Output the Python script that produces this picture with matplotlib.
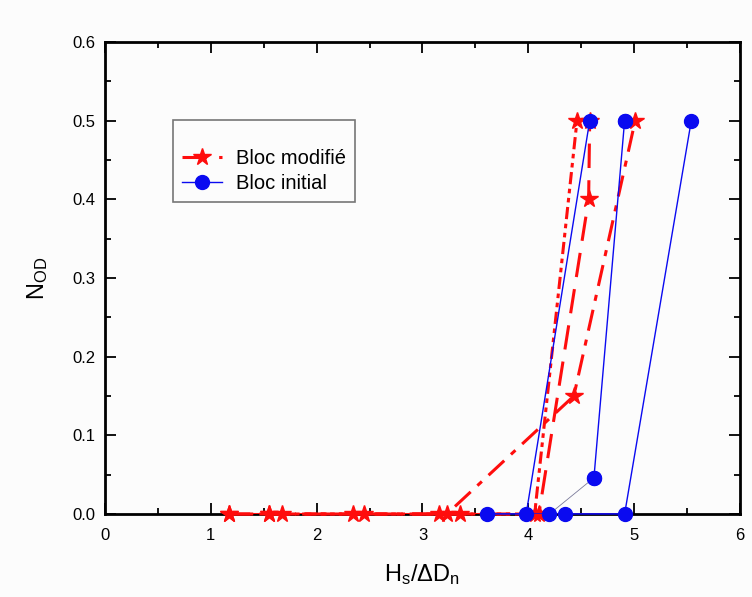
import matplotlib
matplotlib.use("Agg")
import matplotlib.pyplot as plt
from matplotlib.ticker import MultipleLocator

plt.rcParams['font.family'] = ['Liberation Sans', 'DejaVu Sans']
plt.rcParams['mathtext.default'] = 'regular'

# Bloc modifié (three test series)
mod_x1 = [1.17, 1.55, 2.34, 3.23, 4.43, 5.01]
mod_y1 = [0.0, 0.0, 0.0, 0.0, 0.15, 0.50]
mod_x2 = [1.17, 1.67, 2.45, 3.35, 4.10, 4.57, 4.58]
mod_y2 = [0.0, 0.0, 0.0, 0.0, 0.0, 0.40, 0.50]
mod_x3 = [1.55, 3.16, 4.06, 4.46]
mod_y3 = [0.0, 0.0, 0.0, 0.50]

# Bloc initial (three test series)
ini_x1 = [3.61, 3.98, 4.58]
ini_y1 = [0.0, 0.0, 0.50]
ini_x2 = [4.20, 4.62, 4.91]
ini_y2 = [0.0, 0.046, 0.50]
ini_x3 = [4.35, 4.91, 5.54]
ini_y3 = [0.0, 0.0, 0.50]

red = '#ff0d0d'
blue = '#0a0af0'

fig = plt.figure(figsize=(7.52, 5.97), dpi=100)
fig.patch.set_facecolor('#fcfcfc')
ax = fig.add_axes([0.1396, 0.139, 0.8444, 0.7906])
ax.set_facecolor('#fcfcfc')

star = dict(marker='*', markersize=13, color=red, markeredgecolor=red, lw=2.2,
            clip_on=False, zorder=3)
ax.plot(mod_x1, mod_y1, dashes=[7, 3, 2, 3], **star)
ax.plot(mod_x2, mod_y2, dashes=[8, 4], label='Bloc modifié', **star)
ax.plot(mod_x3, mod_y3, dashes=[4, 1.5, 1.5, 1.5, 1.5, 1.5], **star)
# the red series overlap along the zero line, which reads as one solid line
red_zero = sorted(set(x for x, y in zip(mod_x1 + mod_x2, mod_y1 + mod_y2) if y == 0))
ax.plot(red_zero, [0.0] * len(red_zero), color=red, lw=2.2, zorder=3)

circ = dict(marker='o', markersize=10, color=blue, markeredgecolor=blue, lw=1.0,
            clip_on=False, zorder=4)
ax.plot(ini_x1, ini_y1, label='Bloc initial', **circ)
ax.plot(ini_x2[:2], ini_y2[:2], color='#7a7a9a', lw=0.6, zorder=4)
ax.plot(ini_x2, ini_y2, ls='none', marker='o', markersize=10, color=blue,
        clip_on=False, zorder=4)
ax.plot(ini_x2[1:], ini_y2[1:], **circ)
ax.plot(ini_x3, ini_y3, **circ)
blue_zero = sorted(set(x for x, y in zip(ini_x1 + ini_x3, ini_y1 + ini_y3) if y == 0))
ax.plot(blue_zero, [0.0] * len(blue_zero), color='#3a10c0', lw=2.0, zorder=3.5)

ax.set_xlim(0, 6)
ax.set_ylim(0, 0.6)
ax.xaxis.set_major_locator(MultipleLocator(1))
ax.xaxis.set_minor_locator(MultipleLocator(0.5))
ax.yaxis.set_major_locator(MultipleLocator(0.1))
ax.yaxis.set_minor_locator(MultipleLocator(0.05))
ax.yaxis.set_major_formatter(plt.FormatStrFormatter('%.1f'))
ax.tick_params(which='both', direction='in', top=True, right=True, width=1.3,
               labelsize=12, pad=7)
ax.tick_params(axis='x', pad=10)
ax.tick_params(which='major', length=8)
ax.tick_params(which='minor', length=4)
for sp in ax.spines.values():
    sp.set_linewidth(2)

ax.set_xlabel(r'H$_s$/$\Delta$D$_n$', fontsize=17, labelpad=14)
ax.set_ylabel(r'N$_{OD}$', fontsize=17, labelpad=16)

leg = ax.legend(loc='upper left', bbox_to_anchor=(0.107, 0.835), borderaxespad=0,
                fontsize=14.5, title=' ', title_fontsize=10,
                frameon=True, fancybox=False, edgecolor='#555555',
                handlelength=2.0, borderpad=0.45, labelspacing=0.3, handletextpad=0.7)
leg.get_frame().set_linewidth(1.2)
leg.get_frame().set_facecolor('#fcfcfc')

fig.savefig('out.png', dpi=100, facecolor=fig.get_facecolor())
